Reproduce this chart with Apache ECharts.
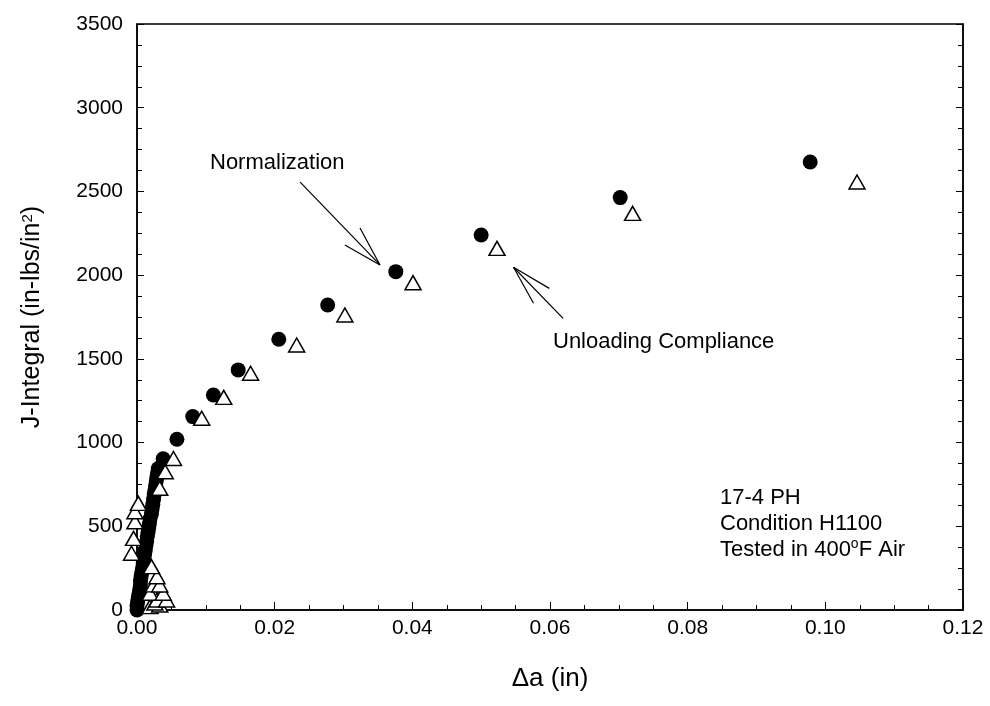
<!DOCTYPE html>
<html>
<head>
<meta charset="utf-8">
<script src="https://cdn.jsdelivr.net/npm/echarts@6/dist/echarts.min.js"></script>
<style>
html,body{margin:0;padding:0;background:#fff;}
#chart{width:990px;height:706px;}
</style>
</head>
<body>
<div id="chart"></div>
<script>
// ---- Data (Δa in inches, J in in-lbs/in^2) ----
const normalizationX = [0.0000,0.0000,0.0001,0.0002,0.0003,0.0004,0.0005,0.0005,0.0006,0.0007,0.0008,0.0009,0.0010,0.0011,0.0012,0.0013,0.0014,0.0015,0.0016,0.0017,0.0018,0.0019,0.0021,0.0022,0.0023,0.0024,0.0025,0.0026,0.0027,0.0028,0.0029,0.0030,0.0031,0.0038,0.0058,0.0081,0.0111,0.0147,0.0206,0.0277,0.0376,0.0500,0.0702,0.0978];
const normalizationJ = [0,25,50,75,100,125,150,175,200,225,250,280,305,330,355,385,410,440,465,490,515,545,575,605,630,660,690,715,745,770,795,820,845,903,1020,1155,1284,1434,1617,1822,2021,2240,2463,2676];

const unloadingX = [-0.0008,-0.0005,-0.0003,-0.0003,0.0002,0.0019,0.0033,0.0026,0.0029,0.0043,0.0019,0.0038,0.0024,0.0033,0.0029,0.0021,0.0033,0.0041,0.0053,0.0094,0.0126,0.0165,0.0232,0.0302,0.0401,0.0523,0.0720,0.1046];
const unloadingJ = [339,428,527,587,637,20,30,42,60,60,100,100,150,149,199,259,727,826,905,1145,1270,1414,1583,1762,1955,2160,2369,2556];

// axis scales
const xMin = 0, xMax = 0.12, xStep = 0.02;
const yMin = 0, yMax = 3500, yStep = 500;

// annotation arrows (data coordinates): [from, to]
const arrowNorm = [[0.0237, 2556], [0.0353, 2061]];
const arrowNormHead = [[[0.0353, 2061], [0.0302, 2180]], [[0.0353, 2061], [0.0324, 2282]]];
const arrowUnl = [[0.0619, 1742], [0.0547, 2047]];
const arrowUnlHead = [[[0.0547, 2047], [0.0576, 1832]], [[0.0547, 2047], [0.0599, 1921]]];

const FONT = "'Liberation Sans', Arial, Helvetica, sans-serif";
const zip = (a, b) => a.map((v, i) => [v, b[i]]);

function seg(p) { return [{ coord: p[0] }, { coord: p[1] }]; }
const annotationLines = [
  seg(arrowNorm), seg(arrowNormHead[0]), seg(arrowNormHead[1]),
  seg(arrowUnl), seg(arrowUnlHead[0]), seg(arrowUnlHead[1])
];

const chart = echarts.init(document.getElementById('chart'), null, { renderer: 'canvas' });
const option = {
  animation: false,
  backgroundColor: '#fff',
  textStyle: { fontFamily: FONT, color: '#000' },
  grid: { left: 137, right: 27, top: 24, bottom: 96, show: true, borderColor: '#000', borderWidth: 1.5, backgroundColor: 'transparent' },
  xAxis: {
    type: 'value', min: xMin, max: xMax, interval: xStep,
    name: 'Δa (in)', nameLocation: 'middle', nameGap: 56,
    nameTextStyle: { fontFamily: FONT, fontSize: 26, color: '#000' },
    axisLine: { show: true, onZero: false, lineStyle: { color: '#000', width: 1.5 } },
    axisTick: { show: true, inside: true, length: 8, lineStyle: { color: '#000', width: 1 } },
    minorTick: { show: true, splitNumber: 4, length: 5, lineStyle: { color: '#000', width: 1 } },
    axisLabel: { fontFamily: FONT, fontSize: 21, color: '#000', margin: 8, formatter: v => v.toFixed(2) },
    splitLine: { show: false }
  },
  yAxis: [{
    type: 'value', min: yMin, max: yMax, interval: yStep,
    name: 'J-Integral (in-lbs/in{sup|2})', nameLocation: 'middle', nameGap: 92, nameRotate: 90,
    nameTextStyle: { fontFamily: FONT, fontSize: 25, color: '#000',
      rich: { sup: { fontFamily: FONT, fontSize: 15, color: '#000', verticalAlign: 'top' } } },
    axisLine: { show: true, onZero: false, lineStyle: { color: '#000', width: 1.5 } },
    axisTick: { show: true, inside: true, length: 7, lineStyle: { color: '#000', width: 1 } },
    minorTick: { show: true, splitNumber: 4, length: 5, lineStyle: { color: '#000', width: 1 } },
    axisLabel: { fontFamily: FONT, fontSize: 21, color: '#000', margin: 14, formatter: v => String(v) },
    splitLine: { show: false }
  }, {
    type: 'value', min: yMin, max: yMax, interval: yStep, position: 'right',
    axisLine: { show: true, onZero: false, lineStyle: { color: '#000', width: 1.5 } },
    axisTick: { show: true, inside: true, length: 7, lineStyle: { color: '#000', width: 1 } },
    minorTick: { show: true, splitNumber: 4, length: 5, lineStyle: { color: '#000', width: 1 } },
    axisLabel: { show: false },
    splitLine: { show: false }
  }],
  series: [{
    name: 'Normalization', type: 'scatter', clip: false,
    symbol: 'circle', symbolSize: 15,
    itemStyle: { color: '#000', borderColor: '#000', borderWidth: 0, opacity: 1 },
    data: zip(normalizationX, normalizationJ),
    z: 2,
    markLine: {
      silent: true, symbol: 'none', animation: false,
      label: { show: false },
      lineStyle: { color: '#000', width: 1.2, type: 'solid' },
      emphasis: { disabled: true },
      data: annotationLines
    }
  }, {
    name: 'Unloading Compliance', type: 'scatter', clip: false,
    symbol: 'triangle', symbolSize: [16, 14],
    itemStyle: { color: '#fff', borderColor: '#000', borderWidth: 1.5, opacity: 1 },
    data: zip(unloadingX, unloadingJ),
    z: 3
  }],
  graphic: [
    { type: 'text', left: 210, top: 152, style: { text: 'Normalization', font: "22px " + FONT, fill: '#000' } },
    { type: 'text', left: 553, top: 331, style: { text: 'Unloading Compliance', font: "22px " + FONT, fill: '#000' } },
    { type: 'text', left: 720, top: 485, style: {
        text: '17-4 PH\nCondition H1100\nTested in 400{sup|o}F Air',
        font: "22px " + FONT, fill: '#000', lineHeight: 26,
        rich: { sup: { fontSize: 14, fontFamily: FONT, fill: '#000', verticalAlign: 'top', lineHeight: 26 } }
      } }
  ]
};
chart.setOption(option);
</script>
</body>
</html>
